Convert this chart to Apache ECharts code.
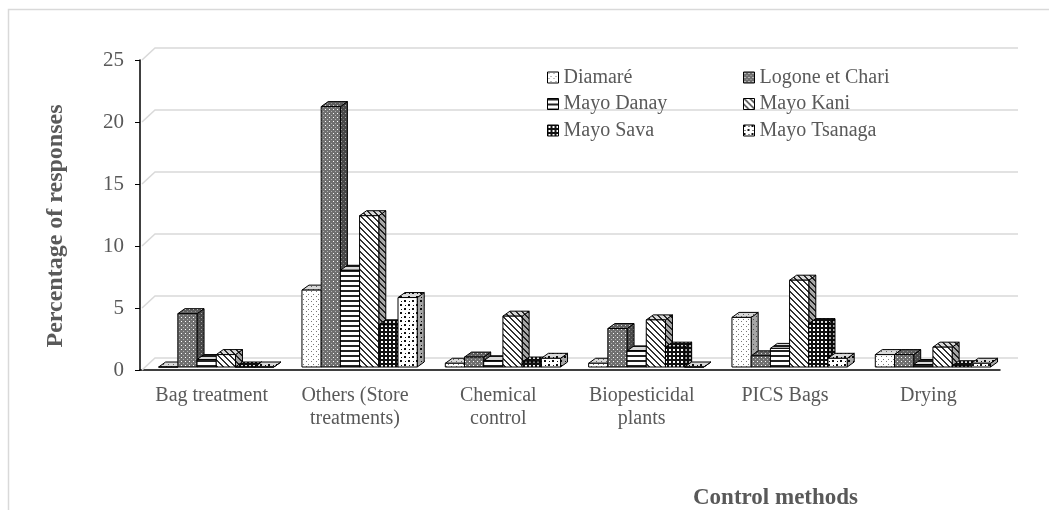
<!DOCTYPE html>
<html>
<head>
<meta charset="utf-8">
<script src="https://cdn.jsdelivr.net/npm/echarts@6/dist/echarts.min.js"></script>
<style>
  html, body { margin: 0; padding: 0; background: #fff; }
  #chart { width: 1049px; height: 510px; }
</style>
</head>
<body>
<div id="chart"></div>
<script>
// data
var categories = ['Bag treatment', 'Others (Store\ntreatments)', 'Chemical\ncontrol', 'Biopesticidal\nplants', 'PICS Bags', 'Drying'];
var regions = ['Diamaré', 'Logone et Chari', 'Mayo Danay', 'Mayo Kani', 'Mayo Sava', 'Mayo Tsanaga'];
var diamare = [0, 6.2, 0.3, 0.3, 4.0, 1.0];
var logone = [4.3, 21.0, 0.8, 3.1, 0.9, 1.0];
var danay = [0.6, 7.8, 0.5, 1.3, 1.5, 0.2];
var kani = [1.0, 12.2, 4.1, 3.8, 7.0, 1.6];
var sava = [0, 3.4, 0.4, 1.6, 3.5, 0.1];
var tsanaga = [0, 5.6, 0.7, 0, 0.7, 0.3];
var yTicks = [0, 5, 10, 15, 20, 25];

var seriesValues = [diamare, logone, danay, kani, sava, tsanaga];
var FONT = 'Liberation Serif';
var TXT = '#595959';

// small canvas tiles used as fill patterns
function tile(w, h, bg, draw) {
    var c = document.createElement('canvas');
    c.width = w;
    c.height = h;
    var ctx = c.getContext('2d');
    ctx.fillStyle = bg;
    ctx.fillRect(0, 0, w, h);
    draw(ctx);
    return { image: c, repeat: 'repeat' };
}

var patterns = [
    tile(5, 5, '#fff', function (ctx) {
        ctx.fillStyle = '#777';
        ctx.fillRect(1, 1, 1, 1);
        ctx.fillRect(3, 4, 1, 1);
    }),
    tile(4, 4, '#707070', function (ctx) {
        ctx.fillStyle = '#fff';
        ctx.fillRect(1, 1, 1, 1);
        ctx.fillStyle = '#b0b0b0';
        ctx.fillRect(3, 3, 1, 1);
    }),
    tile(1, 5, '#fff', function (ctx) {
        ctx.fillStyle = '#222';
        ctx.fillRect(0, 0, 1, 2);
    }),
    tile(6, 6, '#fff', function (ctx) {
        ctx.fillStyle = '#333';
        for (var x = 0; x < 6; x++) {
            for (var y = 0; y < 6; y++) {
                if ((x - y + 6) % 6 < 2) ctx.fillRect(x, y, 1, 1);
            }
        }
    }),
    tile(4, 4, '#111', function (ctx) {
        ctx.fillStyle = '#fff';
        ctx.fillRect(1, 1, 2, 2);
    }),
    tile(8, 8, '#fff', function (ctx) {
        ctx.fillStyle = '#111';
        ctx.fillRect(0, 0, 2, 2);
        ctx.fillRect(4, 4, 2, 2);
        ctx.fillRect(5, 1, 1, 1);
        ctx.fillRect(1, 5, 1, 1);
    })
];

var DX = 7, DY = -5;     // bar depth
var WDX = 15, WDY = -12; // back wall depth

function barRender(s) {
    return function (params, api) {
        var cat = api.value(0);
        var v = api.value(1);
        var base = api.coord([cat, 0]);
        var topP = api.coord([cat, v]);
        var band = api.size([1, 0])[0];
        var w = band * 0.134;
        var x0 = base[0] - band / 2 + band * 0.13 + s * w;
        var x1 = x0 + w;
        var y0 = base[1] - 3;
        var y1 = topP[1] - 3;
        var line = { stroke: '#000', lineWidth: 1 };
        var fill = patterns[s];
        var topPts = [[x0, y1], [x1, y1], [x1 + DX, y1 + DY], [x0 + DX, y1 + DY]];
        var sidePts = [[x1, y1], [x1 + DX, y1 + DY], [x1 + DX, y0 + DY], [x1, y0]];
        return {
            type: 'group',
            children: [
                { type: 'polygon', shape: { points: sidePts }, style: { fill: fill } },
                { type: 'polygon', shape: { points: sidePts }, style: Object.assign({ fill: 'rgba(0,0,0,0.35)' }, line) },
                { type: 'polygon', shape: { points: topPts }, style: { fill: fill } },
                { type: 'polygon', shape: { points: topPts }, style: Object.assign({ fill: 'rgba(0,0,0,0.15)' }, line) },
                { type: 'rect', shape: { x: x0, y: y1, width: w, height: y0 - y1 }, style: Object.assign({ fill: fill }, line) }
            ]
        };
    };
}

function wallRender(params, api) {
    var cs = params.coordSys;
    var y = api.coord([0, api.value(1)])[1];
    return {
        type: 'polyline',
        shape: { points: [[cs.x + 2, y], [cs.x + WDX, y + WDY], [cs.x + cs.width + 18, y + WDY]] },
        style: { stroke: '#d9d9d9', lineWidth: 1.5, fill: null }
    };
}

var series = [{
    name: 'wall',
    type: 'custom',
    silent: true,
    z: 1,
    renderItem: wallRender,
    data: yTicks.map(function (t) { return [0, t]; })
}];
regions.forEach(function (name, s) {
    series.push({
        name: name,
        type: 'custom',
        z: 2,
        renderItem: barRender(s),
        itemStyle: { color: patterns[s], borderColor: '#000', borderWidth: 1 },
        data: seriesValues[s].map(function (v, i) { return [i, v]; })
    });
});

function legendItems(names) {
    return names.map(function (n) {
        return { name: n, itemStyle: { color: patterns[regions.indexOf(n)], borderColor: '#000', borderWidth: 1 } };
    });
}

var legendCommon = {
    orient: 'vertical',
    top: 62,
    icon: 'rect',
    itemWidth: 11,
    itemHeight: 11,
    itemGap: 5.5,
    selectedMode: false,
    textStyle: { fontFamily: FONT, fontSize: 20, color: TXT, lineHeight: 21 }
};

var option = {
    backgroundColor: '#fff',
    animation: false,
    textStyle: { fontFamily: FONT },
    grid: { left: 140, right: 49, top: 60, bottom: 140 },
    legend: [
        Object.assign({ left: 542, data: legendItems(['Diamaré', 'Mayo Danay', 'Mayo Sava']) }, legendCommon),
        Object.assign({ left: 738, data: legendItems(['Logone et Chari', 'Mayo Kani', 'Mayo Tsanaga']) }, legendCommon)
    ],
    xAxis: {
        type: 'category',
        data: categories,
        axisLine: { lineStyle: { color: '#000', width: 1.5 } },
        axisTick: { length: 5, lineStyle: { color: '#000' } },
        axisLabel: { fontFamily: FONT, fontSize: 20, color: TXT, margin: 14, lineHeight: 23, interval: 0, hideOverlap: false },
        splitLine: { show: false }
    },
    yAxis: {
        type: 'value',
        min: 0,
        max: 25,
        interval: 5,
        name: 'Percentage of responses',
        nameLocation: 'middle',
        nameGap: 72,
        nameTextStyle: { fontFamily: FONT, fontSize: 24, fontWeight: 'bold', color: TXT, padding: [0, 22, 0, 0] },
        axisLine: { show: true, lineStyle: { color: '#000', width: 1.5 } },
        axisTick: { show: true, length: 5, lineStyle: { color: '#000' } },
        axisLabel: { fontFamily: FONT, fontSize: 21, color: TXT, margin: 16 },
        splitLine: { show: false }
    },
    graphic: [
        {
            type: 'rect',
            shape: { x: 8.5, y: 9.5, width: 1200, height: 700 },
            style: { fill: null, stroke: '#d9d9d9', lineWidth: 1.5 },
            silent: true
        },
        {
            type: 'text',
            left: 693,
            top: 487,
            style: { text: 'Control methods', fontFamily: FONT, fontSize: 23, fontWeight: 'bold', fill: TXT },
            silent: true
        }
    ],
    series: series
};

var myChart = echarts.init(document.getElementById('chart'));
myChart.setOption(option);
</script>
</body>
</html>
